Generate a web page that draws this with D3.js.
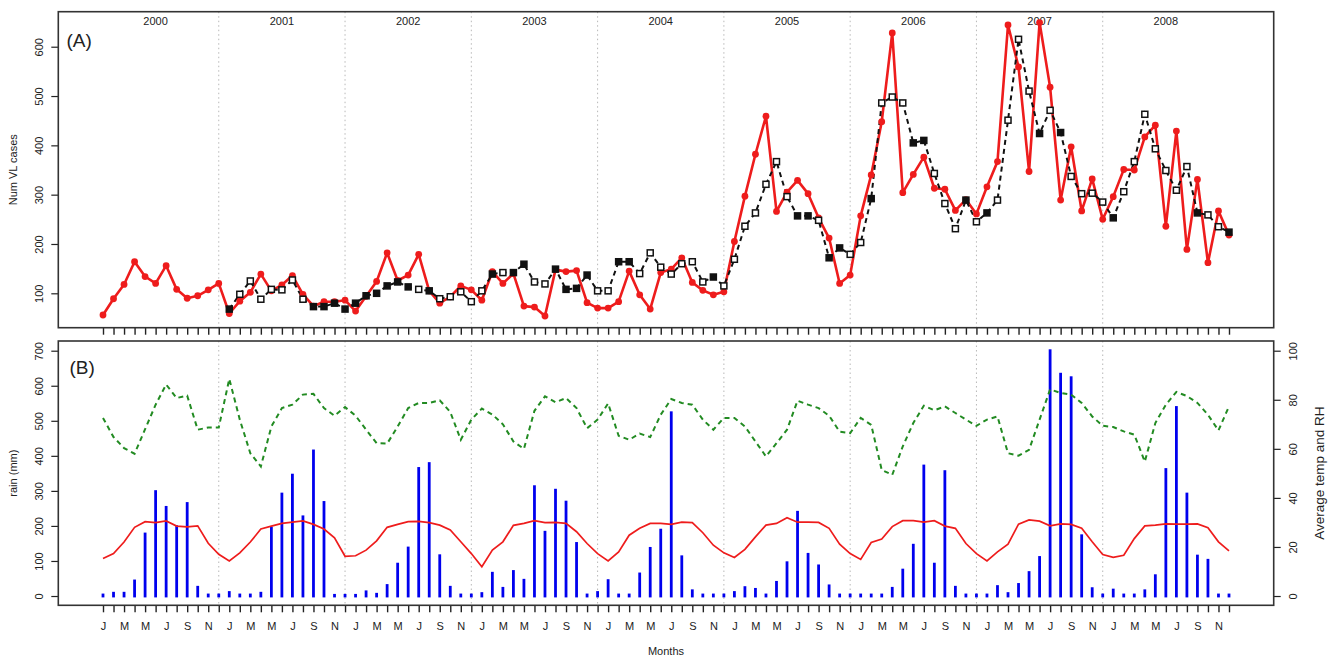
<!DOCTYPE html>
<html>
<head>
<meta charset="utf-8">
<script src="https://cdn.jsdelivr.net/npm/d3@7/dist/d3.min.js"></script>
<style>
  html, body { margin: 0; padding: 0; background: #fff; }
  svg { display: block; font-family: "Liberation Sans", Arial, Helvetica, sans-serif; }
</style>
</head>
<body>
<svg id="chart" width="1335" height="655"></svg>
<script>
// ---------------- DATA ----------------
const years = [2000, 2001, 2002, 2003, 2004, 2005, 2006, 2007, 2008];
const monthLetters = ["J", "F", "M", "A", "M", "J", "J", "A", "S", "O", "N", "D"];

// Observed VL cases (red), Jan 2000 - Dec 2008
const observedCases = [
  56, 89, 118, 164, 134, 120, 156, 108, 90, 95, 107, 120,
  59, 84, 102, 139, 105, 117, 136, 98, 74, 83, 83, 86,
  64, 94, 124, 182, 126, 137, 179, 105, 80, 93, 115, 107,
  86, 144, 120, 140, 74, 72, 54, 148, 144, 146, 81, 70,
  70, 83, 145, 97, 68, 142, 149, 172, 122, 106, 97, 103,
  205, 297, 382, 459, 266, 305, 329, 302, 253, 212, 120, 137,
  257, 340, 448, 628, 304, 341, 376, 313, 311, 268, 290, 261,
  316, 367, 644, 559, 347, 649, 518, 289, 397, 267, 332, 250,
  296, 351, 350, 417, 441, 236, 429, 189, 331, 162, 267, 218
];

// Model (black, dashed), starts Jan 2001
const predictedCases = [
  null, null, null, null, null, null, null, null, null, null, null, null,
  68, 98, 125, 88, 108, 107, 127, 88, 73, 73, 80, 68,
  80, 95, 100, 115, 123, 113, 108, 105, 89, 93, 103, 83,
  105, 139, 142, 142, 159, 123, 119, 149, 108, 110, 137, 105,
  105, 164, 164, 140, 182, 153, 139, 160, 164, 123, 133, 115,
  169, 236, 263, 321, 367, 296, 257, 257, 248, 172, 192, 179,
  203, 292, 486, 498, 486, 405, 410, 343, 282, 231, 289, 245,
  263, 289, 451, 615, 510, 424, 471, 426, 337, 302, 303, 285,
  253, 306, 367, 463, 393, 349, 309, 357, 263, 259, 235, 224
];
// marker kind of each model point ("F" filled square, "O" open square)
const predictedKind = [
  "", "", "", "", "", "", "", "", "", "", "", "",
  "F", "O", "O", "O", "O", "O", "O", "O", "F", "F", "F", "F",
  "F", "F", "F", "F", "F", "F", "O", "F", "O", "O", "O", "O",
  "O", "F", "O", "F", "F", "O", "O", "F", "F", "F", "F", "O",
  "O", "F", "F", "O", "O", "O", "O", "O", "O", "O", "F", "O",
  "O", "O", "O", "O", "O", "O", "F", "F", "O", "F", "F", "O",
  "O", "F", "O", "O", "O", "F", "F", "O", "O", "O", "F", "O",
  "F", "O", "O", "O", "O", "F", "O", "F", "O", "O", "O", "O",
  "F", "O", "O", "O", "O", "O", "O", "O", "F", "O", "O", "F"
];

// Monthly rain (mm), blue bars
const rainMM = [
  3, 8, 8, 43, 177, 298, 253, 198, 264, 25, 3, 3,
  10, 3, 3, 8, 194, 291, 345, 226, 414, 267, 2, 2,
  2, 12, 5, 30, 91, 137, 364, 378, 115, 25, 3, 3,
  7, 65, 22, 70, 45, 312, 182, 302, 268, 150, 3, 10,
  44, 3, 3, 63, 136, 188, 523, 112, 15, 3, 3, 3,
  10, 24, 19, 3, 39, 95, 239, 119, 86, 29, 3, 3,
  3, 3, 3, 22, 74, 145, 371, 91, 355, 25, 3, 3,
  3, 27, 7, 33, 67, 110, 700, 633, 623, 172, 21, 3,
  17, 3, 3, 15, 58, 361, 538, 291, 114, 102, 3, 3
];

// Average temperature (red solid), right axis
const avgTemp = [
  15.3, 17.3, 22, 28, 30.3, 29.9, 30.6, 28.5, 28.2, 28.6, 21.5, 17,
  14.3, 17.6, 22, 27.3, 28.5, 29.6, 30.1, 30.6, 29.2, 27.3, 23.7, 16.2,
  16.4, 18.7, 22.5, 28, 29.2, 30.3, 30.4, 29.9, 28.9, 26.9, 22.1, 17.3,
  11.9, 18.7, 22.1, 28.8, 29.6, 30.7, 29.9, 30, 29.6, 26.2, 21.4, 17.3,
  14.3, 18, 24.8, 27.6, 29.6, 29.6, 29.2, 30.1, 29.9, 25.8, 20.7, 17.6,
  15.7, 19, 24.1, 28.9, 29.6, 31.9, 30.1, 30.1, 30, 27.6, 21.1, 17.3,
  14.9, 21.8, 23.2, 28.3, 30.7, 30.7, 30.1, 30.7, 28.5, 27.6, 21.4, 17.3,
  14.3, 18, 21.1, 29.3, 31, 30.5, 28.6, 29.4, 29.2, 27.6, 22.1, 16.9,
  15.8, 16.6, 23.4, 28.6, 28.9, 29.4, 29.3, 29.3, 29.4, 27.8, 22.1, 18.4
];

// Average relative humidity (green dashed), right axis
const avgRH = [
  72.6, 64.8, 60.3, 58, 68, 78, 86.2, 80.7, 81.7, 67.8, 68.7, 68.7,
  88.5, 71.9, 58.2, 52.8, 69.1, 76.6, 78, 82.1, 82.4, 76.6, 73.5, 77,
  73.5, 67.8, 62.3, 62.1, 69.1, 76.6, 78.7, 78.7, 79.8, 75, 63.7, 71.9,
  76.4, 74, 70, 63, 60, 75.5, 81.4, 79, 80.7, 76.6, 68.4, 71.9,
  78.5, 65.3, 63.7, 66.2, 64.8, 73.9, 80.3, 78.7, 78, 71.9, 67.8, 72.6,
  72.6, 69.1, 63, 56.9, 62.3, 67.8, 79.6, 78, 76.6, 73.5, 67, 66.4,
  72.6, 69.8, 51.4, 49.4, 61, 70.5, 77.6, 75.7, 77.3, 74.6, 71.9, 69.4,
  71.9, 73.2, 58.2, 57.2, 59.6, 71.9, 84.2, 82.8, 82.1, 78.7, 73.2, 69.4,
  68.9, 67.1, 65.8, 54.8, 70.5, 78, 83.2, 81.5, 78.7, 73.9, 67.5, 77.3
];

const casesTicks = [100, 200, 300, 400, 500, 600];
const rainTicks = [0, 100, 200, 300, 400, 500, 600, 700];
const tempRHTicks = [0, 20, 40, 60, 80, 100];

// ---------------- LAYOUT ----------------
const svg = d3.select("#chart");
const L = 58.3, R = 1273.7;
const A = { top: 11.7, bottom: 327.7 };
const B = { top: 341, bottom: 605.3 };
const nMonths = observedCases.length;
const idx = d3.range(nMonths);

const x = d3.scaleLinear().domain([0, nMonths - 1]).range([103, 1229]);
const yCases = d3.scaleLinear().domain([30.25, 671]).range([A.bottom, A.top]);
const yRain = d3.scaleLinear().domain([-26.5, 727.7]).range([B.bottom, B.top]);
const yTR = d3.scaleLinear().domain([-26.5 / 7, 727.7 / 7]).range([B.bottom, B.top]);

const FONT = 11;
const textColor = "#222";

// year-boundary dotted lines (at December of each year)
const yearEnds = years.slice(0, -1).map((y, k) => 12 * k + 11);
[A, B].forEach(p => {
  svg.append("g").selectAll("line").data(yearEnds).join("line")
    .attr("x1", d => x(d)).attr("x2", d => x(d))
    .attr("y1", p.top).attr("y2", p.bottom)
    .attr("stroke", "#b8b8b8").attr("stroke-width", 1)
    .attr("stroke-dasharray", "1.5,3");
});

// ---------------- PANEL A ----------------
const gA = svg.append("g");

// year labels
gA.selectAll("text.year").data(years).join("text")
  .attr("class", "year")
  .attr("x", (d, k) => x(12 * k + 5))
  .attr("y", 25.2)
  .attr("text-anchor", "middle")
  .attr("font-size", FONT).attr("fill", textColor)
  .text(d => d);

// observed (red)
const lineObs = d3.line().x((d, i) => x(i)).y(d => yCases(d));
gA.append("path").datum(observedCases)
  .attr("d", lineObs).attr("fill", "none")
  .attr("stroke", "#ee1c1c").attr("stroke-width", 2.6).attr("stroke-linejoin", "round");

// predicted (black dashed)
const linePred = d3.line().defined(d => d != null).x((d, i) => x(i)).y(d => yCases(d));
gA.append("path").datum(predictedCases)
  .attr("d", linePred).attr("fill", "none")
  .attr("stroke", "#111").attr("stroke-width", 2).attr("stroke-dasharray", "5,4");

gA.selectAll("circle.obs").data(observedCases).join("circle")
  .attr("class", "obs")
  .attr("cx", (d, i) => x(i)).attr("cy", d => yCases(d))
  .attr("r", 3.4).attr("fill", "#ee1c1c");

const predPts = idx.filter(i => predictedCases[i] != null);
gA.selectAll("rect.pred").data(predPts).join("rect")
  .attr("class", "pred")
  .attr("x", i => x(i) - 3).attr("y", i => yCases(predictedCases[i]) - 3)
  .attr("width", 6).attr("height", 6)
  .attr("fill", i => predictedKind[i] === "F" ? "#111" : "#fff")
  .attr("stroke", "#111").attr("stroke-width", 1.5);

// axes A
gA.append("g").attr("transform", `translate(${L},0)`)
  .call(d3.axisLeft(yCases).tickValues(casesTicks).tickSize(7).tickFormat(d => d))
  .call(g => g.select(".domain").remove())
  .call(g => g.selectAll(".tick line").attr("stroke", "#222").attr("stroke-width", 1.2))
  .call(g => g.selectAll(".tick text")
    .attr("x", null).attr("dy", "0.35em")
    .attr("transform", "translate(-19,0) rotate(-90)")
    .attr("text-anchor", "middle")
    .attr("font-size", FONT).attr("font-family", null).attr("fill", textColor));

gA.append("g").attr("transform", `translate(0,${A.bottom})`)
  .call(d3.axisBottom(x).tickValues(idx).tickSize(7).tickFormat(""))
  .call(g => g.select(".domain").remove())
  .call(g => g.selectAll(".tick line").attr("stroke", "#222").attr("stroke-width", 1.4));

gA.append("text")
  .attr("transform", `translate(17,${(A.top + A.bottom) / 2}) rotate(-90)`)
  .attr("text-anchor", "middle").attr("font-size", FONT).attr("fill", textColor)
  .text("Num VL cases");

gA.append("text").attr("x", 66.5).attr("y", 47)
  .attr("font-size", 19).attr("fill", textColor).text("(A)");

gA.append("rect").attr("x", L).attr("y", A.top)
  .attr("width", R - L).attr("height", A.bottom - A.top)
  .attr("fill", "none").attr("stroke", "#333").attr("stroke-width", 1.6);

// ---------------- PANEL B ----------------
const gB = svg.append("g");

// rain bars
gB.selectAll("line.rain").data(rainMM).join("line")
  .attr("class", "rain")
  .attr("x1", (d, i) => x(i)).attr("x2", (d, i) => x(i))
  .attr("y1", yRain(0)).attr("y2", d => yRain(d))
  .attr("stroke", "#0000ee").attr("stroke-width", 2.8).attr("stroke-linecap", "square");

// temperature (red solid)
gB.append("path").datum(avgTemp)
  .attr("d", d3.line().x((d, i) => x(i)).y(d => yTR(d)))
  .attr("fill", "none").attr("stroke", "#ee1c1c").attr("stroke-width", 1.7);

// RH (green dashed)
gB.append("path").datum(avgRH)
  .attr("d", d3.line().x((d, i) => x(i)).y(d => yTR(d)))
  .attr("fill", "none").attr("stroke", "#228b22").attr("stroke-width", 2)
  .attr("stroke-dasharray", "5,4");

// left axis (rain)
gB.append("g").attr("transform", `translate(${L},0)`)
  .call(d3.axisLeft(yRain).tickValues(rainTicks).tickSize(7).tickFormat(d => d))
  .call(g => g.select(".domain").remove())
  .call(g => g.selectAll(".tick line").attr("stroke", "#222").attr("stroke-width", 1.2))
  .call(g => g.selectAll(".tick text")
    .attr("x", null).attr("dy", "0.35em")
    .attr("transform", "translate(-19,0) rotate(-90)")
    .attr("text-anchor", "middle")
    .attr("font-size", FONT).attr("font-family", null).attr("fill", textColor));

// right axis (temp & RH)
gB.append("g").attr("transform", `translate(${R},0)`)
  .call(d3.axisRight(yTR).tickValues(tempRHTicks).tickSize(7).tickFormat(d => d))
  .call(g => g.select(".domain").remove())
  .call(g => g.selectAll(".tick line").attr("stroke", "#222").attr("stroke-width", 1.2))
  .call(g => g.selectAll(".tick text")
    .attr("x", null).attr("dy", "0.35em")
    .attr("transform", "translate(19.6,0) rotate(-90)")
    .attr("text-anchor", "middle")
    .attr("font-size", FONT).attr("font-family", null).attr("fill", textColor));

// bottom axis with month letters
gB.append("g").attr("transform", `translate(0,${B.bottom})`)
  .call(d3.axisBottom(x).tickValues(idx).tickSize(7).tickPadding(9.4)
    .tickFormat(i => i % 2 === 0 ? monthLetters[i % 12] : ""))
  .call(g => g.select(".domain").remove())
  .call(g => g.selectAll(".tick line").attr("stroke", "#222").attr("stroke-width", 1.4))
  .call(g => g.selectAll(".tick text")
    .attr("font-size", FONT).attr("font-family", null).attr("fill", textColor));

gB.append("text")
  .attr("transform", `translate(17,${(B.top + B.bottom) / 2}) rotate(-90)`)
  .attr("text-anchor", "middle").attr("font-size", FONT).attr("fill", textColor)
  .text("rain (mm)");

gB.append("text")
  .attr("transform", `translate(1324,${(B.top + B.bottom) / 2}) rotate(-90)`)
  .attr("text-anchor", "middle").attr("font-size", 13.5).attr("fill", textColor)
  .text("Average temp and RH");

gB.append("text").attr("x", 69.5).attr("y", 374)
  .attr("font-size", 19).attr("fill", textColor).text("(B)");

gB.append("text").attr("x", (L + R) / 2).attr("y", 654.5)
  .attr("text-anchor", "middle").attr("font-size", FONT).attr("fill", textColor)
  .text("Months");

gB.append("rect").attr("x", L).attr("y", B.top)
  .attr("width", R - L).attr("height", B.bottom - B.top)
  .attr("fill", "none").attr("stroke", "#333").attr("stroke-width", 1.6);
</script>
</body>
</html>
